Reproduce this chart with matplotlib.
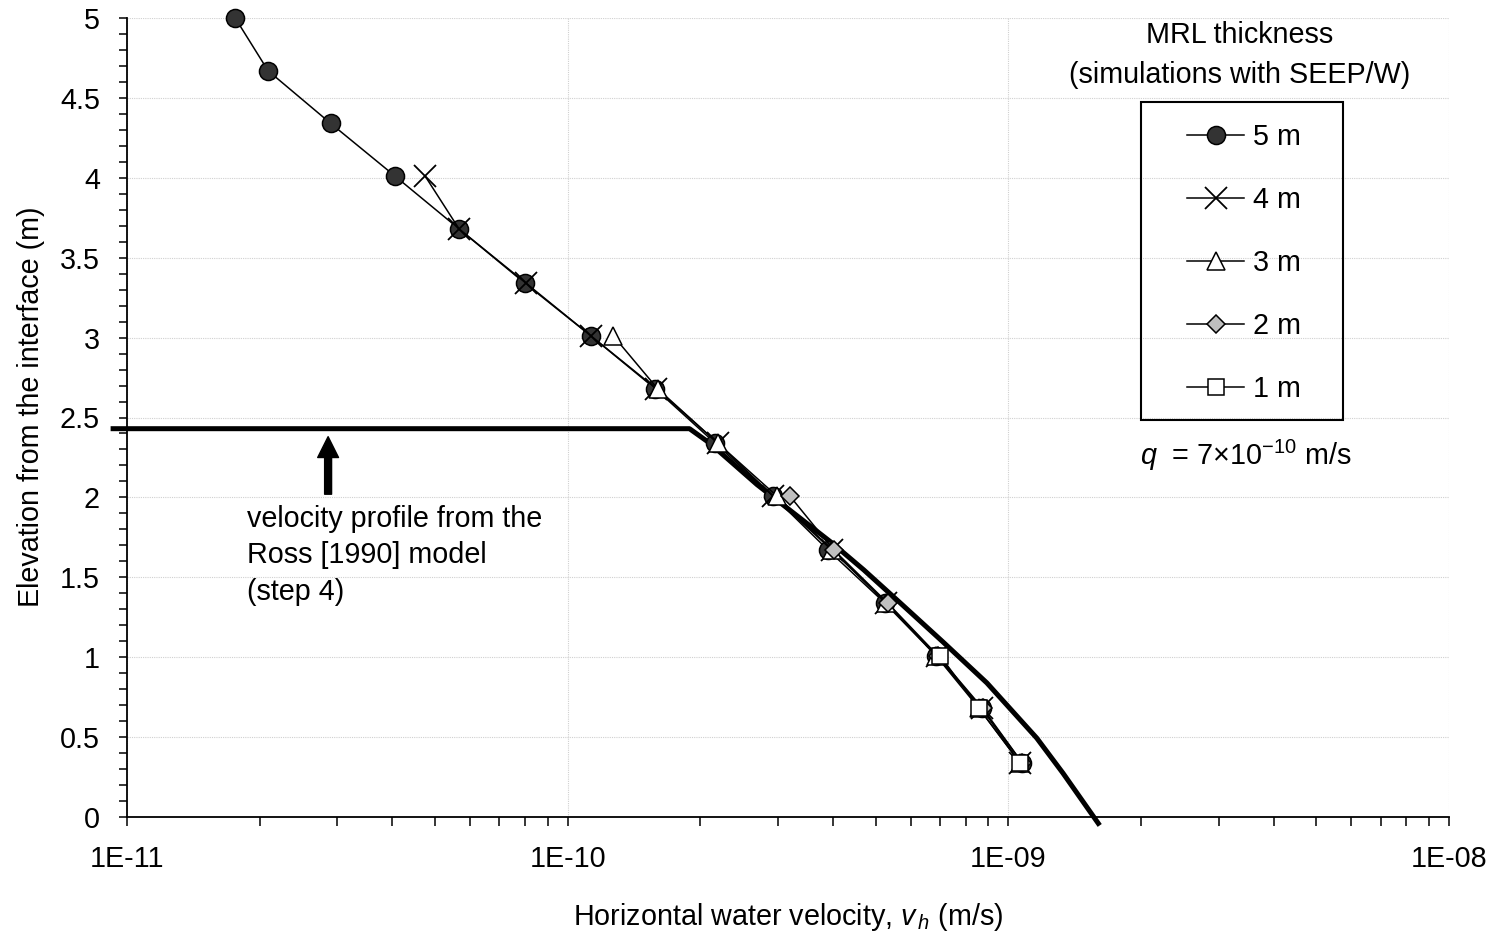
import numpy as np
import matplotlib
matplotlib.use("Agg")
import matplotlib.pyplot as plt
from matplotlib.patches import Rectangle
from matplotlib.ticker import FixedLocator, FuncFormatter, MultipleLocator

plt.rcParams['font.family'] = ['Liberation Sans', 'DejaVu Sans']
plt.rcParams['mathtext.fontset'] = 'custom'
plt.rcParams['mathtext.rm'] = 'Liberation Sans'
plt.rcParams['mathtext.it'] = 'Liberation Sans:italic'

# --- data ---
elev_5m = [5.0, 4.67, 4.34, 4.01, 3.68, 3.34, 3.01, 2.68, 2.34, 2.01, 1.67, 1.34, 1.01, 0.68, 0.34]
vel_5m = [1.76e-11, 2.09e-11, 2.90e-11, 4.06e-11, 5.67e-11, 8.0e-11, 1.13e-10, 1.58e-10,
          2.16e-10, 2.92e-10, 3.90e-10, 5.24e-10, 6.85e-10, 8.71e-10, 1.074e-9]

elev_4m = [4.01, 3.68, 3.34, 3.01, 2.68, 2.34, 2.01, 1.67, 1.34, 1.01, 0.68, 0.34]
vel_4m = [4.75e-11, 5.67e-11, 8.05e-11, 1.13e-10, 1.59e-10, 2.19e-10, 2.92e-10, 3.98e-10,
          5.29e-10, 6.89e-10, 8.71e-10, 1.062e-9]

elev_3m = [3.01, 2.68, 2.34, 2.01, 1.67, 1.34, 1.01, 0.68, 0.34]
vel_3m = [1.27e-10, 1.60e-10, 2.19e-10, 2.98e-10, 3.98e-10, 5.29e-10, 6.85e-10, 8.58e-10, 1.062e-9]

elev_2m = [2.01, 1.67, 1.34, 1.01, 0.68, 0.34]
vel_2m = [3.19e-10, 4.02e-10, 5.32e-10, 6.92e-10, 8.75e-10, 1.075e-9]

elev_1m = [1.01, 0.68, 0.34]
vel_1m = [7.0e-10, 8.58e-10, 1.062e-9]

# Ross [1990] velocity profile (step 4)
elev_ross = [2.43, 2.43, 2.34, 2.08, 1.71, 1.546, 1.358, 1.095, 0.839, 0.494, 0.275, -0.04]
vel_ross = [9.3e-12, 1.89e-10, 2.10e-10, 2.69e-10, 4.0e-10, 4.70e-10, 5.59e-10, 7.11e-10,
            8.94e-10, 1.16e-9, 1.33e-9, 1.60e-9]

x_ticks = [1e-11, 1e-10, 1e-9, 1e-8]
x_tick_labels = ['1E-11', '1E-10', '1E-09', '1E-08']

series = [
    ('5 m', vel_5m, elev_5m, dict(marker='o', markersize=13, markerfacecolor='#333333')),
    ('4 m', vel_4m, elev_4m, dict(marker='x', markersize=16, markeredgewidth=1.3)),
    ('3 m', vel_3m, elev_3m, dict(marker='^', markersize=13, markerfacecolor='white')),
    ('2 m', vel_2m, elev_2m, dict(marker='D', markersize=9, markerfacecolor='#bfbfbf')),
    ('1 m', vel_1m, elev_1m, dict(marker='s', markersize=12, markerfacecolor='white')),
]

FS = 20.7

fig = plt.figure(figsize=(14.93, 9.32), dpi=100)
ax = fig.add_axes([127 / 1493, 1 - 817 / 932, 1322 / 1493, 799 / 932])

ax.plot(vel_ross, elev_ross, color='black', lw=3.6, zorder=2, clip_on=False)

handles = []
for i, (lab, v, e, style) in enumerate(series):
    h, = ax.plot(v, e, color='black', lw=1.1, markeredgecolor='black',
                 markeredgewidth=style.pop('markeredgewidth', 1.1),
                 zorder=3 + i, clip_on=False, label=lab, **style)
    handles.append(h)

ax.set_xscale('log')
ax.set_xlim(1e-11, 1e-8)
ax.set_ylim(0, 5)

ax.xaxis.set_major_locator(FixedLocator(x_ticks))
ax.xaxis.set_major_formatter(FuncFormatter(lambda val, pos: x_tick_labels[x_ticks.index(val)]
                                           if val in x_ticks else ''))
ax.yaxis.set_major_locator(MultipleLocator(0.5))
ax.yaxis.set_minor_locator(MultipleLocator(0.1))
ax.yaxis.set_major_formatter(FuncFormatter(lambda val, pos: f'{val:g}'))

ax.tick_params(axis='x', which='both', direction='out', length=6.5, width=1.1,
               labelsize=FS, pad=14)
ax.tick_params(axis='y', which='both', direction='out', length=5.5, width=1.1,
               labelsize=FS, pad=14)

for s in ['top', 'right']:
    ax.spines[s].set_visible(False)
for s in ['left', 'bottom']:
    ax.spines[s].set_linewidth(1.3)

ax.grid(True, which='major', color='#d0d0d0', lw=0.8, linestyle=(0, (1, 1)))
ax.set_axisbelow(True)

ax.set_xlabel(r'Horizontal water velocity, $v_{\,h}$ (m/s)', fontsize=FS, labelpad=20)
ax.set_ylabel('Elevation from the interface (m)', fontsize=FS)
ax.yaxis.set_label_coords(-0.062, 0.514)

# arrow and annotation for the Ross model line
ax.annotate('', xy=(2.86e-11, 2.38), xytext=(2.86e-11, 2.02),
            arrowprops=dict(width=5, headwidth=15, headlength=15, shrink=0,
                            facecolor='black', edgecolor='black'))
ax.text(0.0908, 0.391, 'velocity profile from the\nRoss [1990] model\n(step 4)',
        transform=ax.transAxes, fontsize=FS, ha='left', va='top', linespacing=1.4)

# legend
fig.text(1240 / 1493, 1 - 35 / 932, 'MRL thickness', fontsize=FS, ha='center', va='center')
fig.text(1240 / 1493, 1 - 75 / 932, '(simulations with SEEP/W)', fontsize=FS,
         ha='center', va='center')
fig.patches.append(Rectangle((1141 / 1493, 1 - 420 / 932), 202 / 1493, 318 / 932,
                             transform=fig.transFigure, fill=False, edgecolor='black',
                             lw=1.5))
leg = ax.legend(handles=handles, loc='center', bbox_to_anchor=(1244 / 1493, 1 - 263 / 932),
                bbox_transform=fig.transFigure, frameon=False, fontsize=FS,
                handlelength=2.0, handletextpad=0.3, labelspacing=1.22, borderpad=0)
fig.text(1246 / 1493, 1 - 455 / 932, r'$q$  = 7×10$^{\mathregular{-10}}$ m/s', fontsize=FS,
         ha='center', va='center')

fig.savefig('out.png', dpi=100)
